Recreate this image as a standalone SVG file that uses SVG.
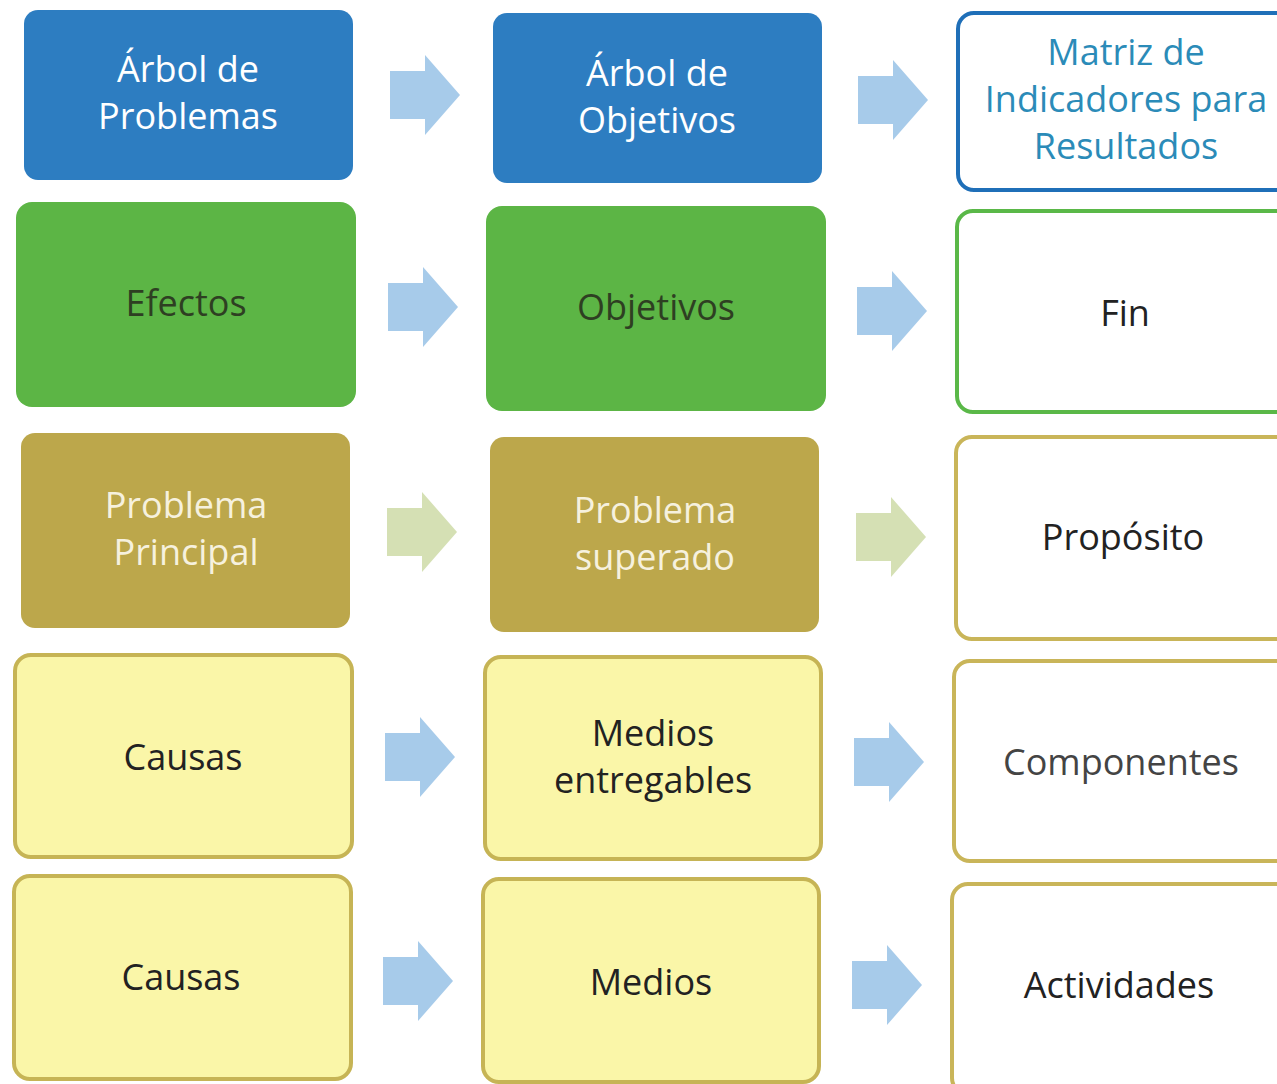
<svg xmlns="http://www.w3.org/2000/svg" width="1277" height="1084" viewBox="0 0 1277 1084">
<style>
text{font-family:"Open Sans","Noto Sans",sans-serif;font-size:36px;text-anchor:middle}
.blue{fill:#2d7dc1}
.green{fill:#5cb545}
.olive{fill:#bca74b}
.yel{fill:#faf6a8;stroke:#c6b455;stroke-width:4}
.out{fill:#ffffff;stroke-width:4}
.w{fill:#ffffff}
.dk{fill:#2e3f22}
.cr{fill:#f6f1de}
.bk{fill:#222222}
.gr{fill:#444444}
.arB{fill:#a7cbea}
.arG{fill:#d5e0b4}
</style>
<defs>
<path id="arrow" d="M0,-24 L35,-24 L35,-40 L70,0 L35,40 L35,24 L0,24 Z"/>
</defs>
<rect width="1277" height="1084" fill="#ffffff"/>

<g id="connectors">
<use href="#arrow" class="arB" x="390" y="95"/>
<use href="#arrow" class="arB" x="858" y="100"/>
<use href="#arrow" class="arB" x="388" y="307"/>
<use href="#arrow" class="arB" x="857" y="311"/>
<use href="#arrow" class="arG" x="387" y="532"/>
<use href="#arrow" class="arG" x="856" y="537"/>
<use href="#arrow" class="arB" x="385" y="757"/>
<use href="#arrow" class="arB" x="854" y="762"/>
<use href="#arrow" class="arB" x="383" y="981"/>
<use href="#arrow" class="arB" x="852" y="985"/>
</g>

<g id="arbol-problemas">
<rect class="blue" x="24" y="10" width="329" height="170" rx="14"/>
<text class="w" x="188" y="82">Árbol de</text>
<text class="w" x="188" y="129">Problemas</text>
</g>
<g id="arbol-objetivos">
<rect class="blue" x="493" y="13" width="329" height="170" rx="14"/>
<text class="w" x="657" y="86">Árbol de</text>
<text class="w" x="657" y="133">Objetivos</text>
</g>
<g id="mir">
<rect class="out" x="958" y="13" width="340" height="177" rx="16" stroke="#1f6fb8"/>
<text x="1126" y="65" fill="#2b8bb8">Matriz de</text>
<text x="1126" y="112" fill="#2b8bb8">Indicadores para</text>
<text x="1126" y="159" fill="#2b8bb8">Resultados</text>
</g>

<g id="efectos">
<rect class="green" x="16" y="202" width="340" height="205" rx="16"/>
<text class="dk" x="186" y="316">Efectos</text>
</g>
<g id="objetivos">
<rect class="green" x="486" y="206" width="340" height="205" rx="16"/>
<text class="dk" x="656" y="320">Objetivos</text>
</g>
<g id="fin">
<rect class="out" x="957" y="211" width="340" height="201" rx="16" stroke="#5ab848"/>
<text class="bk" x="1125" y="326">Fin</text>
</g>

<g id="problema-principal">
<rect class="olive" x="21" y="433" width="329" height="195" rx="14"/>
<text class="cr" x="186" y="518">Problema</text>
<text class="cr" x="186" y="565">Principal</text>
</g>
<g id="problema-superado">
<rect class="olive" x="490" y="437" width="329" height="195" rx="14"/>
<text class="cr" x="655" y="523">Problema</text>
<text class="cr" x="655" y="570">superado</text>
</g>
<g id="proposito">
<rect class="out" x="956" y="437" width="340" height="202" rx="16" stroke="#c9b559"/>
<text class="bk" x="1123" y="550">Propósito</text>
</g>

<g id="causas-1">
<rect class="yel" x="15" y="655" width="337" height="202" rx="16"/>
<text class="bk" x="183" y="770">Causas</text>
</g>
<g id="medios-entregables">
<rect class="yel" x="485" y="657" width="336" height="202" rx="16"/>
<text class="bk" x="653" y="746">Medios</text>
<text class="bk" x="653" y="793">entregables</text>
</g>
<g id="componentes">
<rect class="out" x="954" y="661" width="340" height="200" rx="16" stroke="#c9b559"/>
<text class="gr" x="1121" y="775">Componentes</text>
</g>

<g id="causas-2">
<rect class="yel" x="14" y="876" width="337" height="203" rx="16"/>
<text class="bk" x="181" y="990">Causas</text>
</g>
<g id="medios">
<rect class="yel" x="483" y="879" width="336" height="203" rx="16"/>
<text class="bk" x="651" y="995">Medios</text>
</g>
<g id="actividades">
<rect class="out" x="952" y="884" width="340" height="210" rx="16" stroke="#c9b559"/>
<text class="bk" x="1119" y="998">Actividades</text>
</g>
</svg>
